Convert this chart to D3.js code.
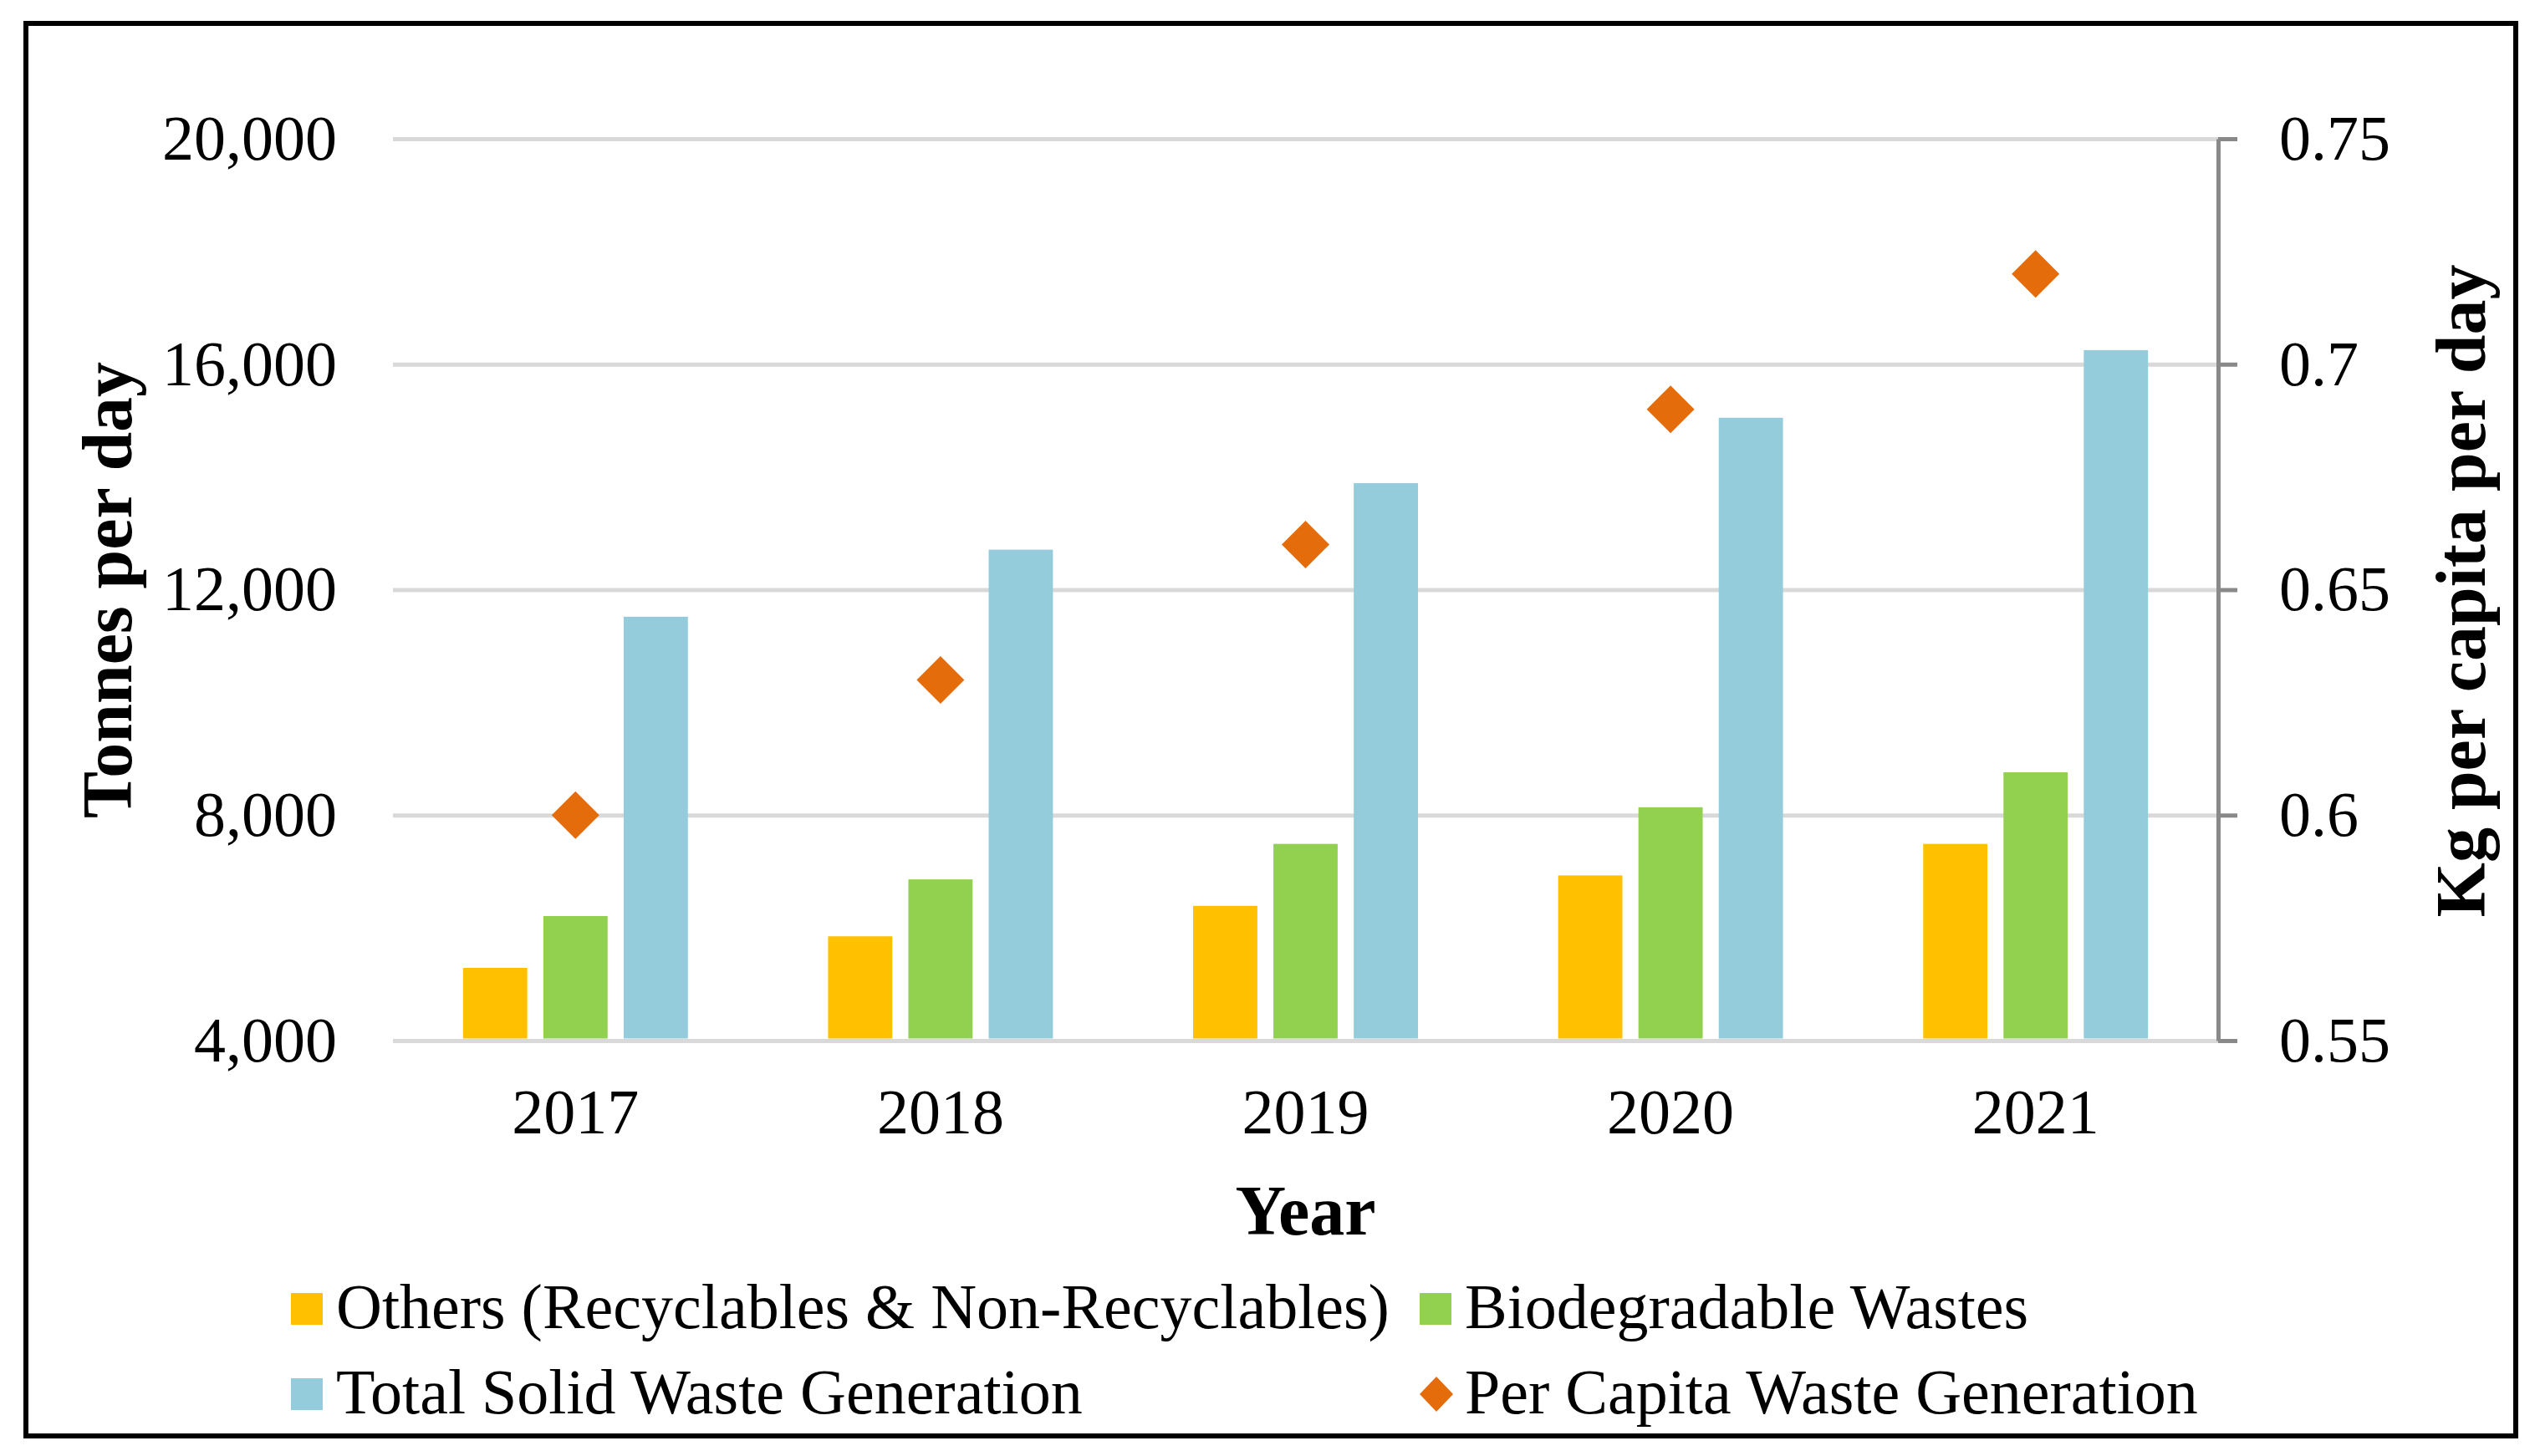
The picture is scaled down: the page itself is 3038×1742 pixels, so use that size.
<!DOCTYPE html>
<html>
<head>
<meta charset="utf-8">
<script src="https://cdn.jsdelivr.net/npm/d3@7.9.0/dist/d3.min.js"></script>
<style>
  html, body { margin: 0; padding: 0; background: #fff; }
  svg text { font-family: "Liberation Serif", "Times New Roman", serif; fill: #000; }
</style>
</head>
<body>
<svg id="chart" width="3038" height="1742"></svg>
<script>
const years = ['2017', '2018', '2019', '2020', '2021'];
const others = [5290, 5850, 6390, 6930, 7490];
const biodegradable = [6210, 6860, 7490, 8140, 8760];
const totalWaste = [11520, 12710, 13890, 15050, 16250];
const perCapita = [0.60, 0.63, 0.66, 0.69, 0.72];

const leftTicks = [4000, 8000, 12000, 16000, 20000];
const rightTicks = [0.55, 0.60, 0.65, 0.70, 0.75];

const seriesNames = ['Others (Recyclables & Non-Recyclables)', 'Biodegradable Wastes', 'Total Solid Waste Generation'];
const seriesColors = ['#FFC000', '#92D050', '#94CCDC'];
const markerName = 'Per Capita Waste Generation';
const markerColor = '#E46C0A';

const svg = d3.select('#chart');
const plot = { left: 470, right: 2653, top: 166, bottom: 1245 };

// frame
svg.append('rect')
  .attr('x', 31).attr('y', 28)
  .attr('width', 2978).attr('height', 1690)
  .attr('fill', 'none').attr('stroke', '#000').attr('stroke-width', 6);

const x = d3.scaleBand().domain(years).range([plot.left, plot.right]).padding(0);
const groupW = x.bandwidth() * 0.616;
const xInner = d3.scaleBand().domain(d3.range(3)).range([-groupW / 2, groupW / 2]).paddingInner(0.2);

const yLeft = d3.scaleLinear().domain([4000, 20000]).range([plot.bottom, plot.top]);
const yRight = d3.scaleLinear().domain([0.55, 0.75]).range([plot.bottom, plot.top]);

// gridlines + left labels
const leftAxis = d3.axisLeft(yLeft)
  .tickValues(leftTicks)
  .tickSize(-(plot.right - plot.left))
  .tickPadding(67)
  .tickFormat(d3.format(','));
const gl = svg.append('g').attr('transform', `translate(${plot.left},0)`).call(leftAxis);
gl.select('.domain').remove();
gl.selectAll('.tick line').attr('stroke', '#D9D9D9').attr('stroke-width', 5);
gl.selectAll('.tick text').attr('font-size', 76).attr('font-family', '"Liberation Serif", serif');

// bars
const bySeries = [others, biodegradable, totalWaste];
bySeries.forEach((vals, si) => {
  svg.append('g').selectAll('rect')
    .data(vals)
    .join('rect')
    .attr('x', (d, i) => x(years[i]) + x.bandwidth() / 2 + xInner(si))
    .attr('width', xInner.bandwidth())
    .attr('y', d => yLeft(d))
    .attr('height', d => yLeft(4000) - yLeft(d) - 2.5)
    .attr('fill', seriesColors[si]);
});

// right axis
const rightAxis = d3.axisRight(yRight)
  .tickValues(rightTicks)
  .tickSize(23)
  .tickSizeOuter(0)
  .tickPadding(50)
  .tickFormat(d3.format('~g'));
const gr = svg.append('g').attr('transform', `translate(${plot.right},0)`).call(rightAxis);
gr.select('.domain').attr('stroke', '#898989').attr('stroke-width', 5);
gr.selectAll('.tick line').attr('stroke', '#898989').attr('stroke-width', 5);
gr.selectAll('.tick text').attr('font-size', 76).attr('font-family', '"Liberation Serif", serif');

// per-capita markers
const diamond = d3.symbol().type(d3.symbolSquare).size(1625);
svg.append('g').selectAll('path')
  .data(perCapita)
  .join('path')
  .attr('d', diamond)
  .attr('transform', (d, i) => `translate(${x(years[i]) + x.bandwidth() / 2},${yRight(d)}) rotate(45)`)
  .attr('fill', markerColor);

// x tick labels
svg.append('g').selectAll('text')
  .data(years)
  .join('text')
  .attr('x', d => x(d) + x.bandwidth() / 2)
  .attr('y', 1356)
  .attr('text-anchor', 'middle')
  .attr('font-size', 76)
  .text(d => d);

// axis titles
svg.append('text')
  .attr('x', (plot.left + plot.right) / 2).attr('y', 1477)
  .attr('text-anchor', 'middle').attr('font-size', 84).attr('font-weight', 'bold')
  .text('Year');

svg.append('text')
  .attr('transform', 'translate(157,706) rotate(-90)')
  .attr('text-anchor', 'middle').attr('font-size', 84).attr('font-weight', 'bold')
  .text('Tonnes per day');

svg.append('text')
  .attr('transform', 'translate(2972,707) rotate(-90)')
  .attr('text-anchor', 'middle').attr('font-size', 84).attr('font-weight', 'bold')
  .text('Kg per capita per day');

// legend
const legendItems = [
  { name: seriesNames[0], color: seriesColors[0], col: 0, row: 0, kind: 'rect' },
  { name: seriesNames[1], color: seriesColors[1], col: 1, row: 0, kind: 'rect' },
  { name: seriesNames[2], color: seriesColors[2], col: 0, row: 1, kind: 'rect' },
  { name: markerName, color: markerColor, col: 1, row: 1, kind: 'diamond' }
];
const colX = [348, 1698];
const rowY = [1566, 1668];
const lg = svg.append('g');
legendItems.forEach(item => {
  const cx = colX[item.col];
  const cy = rowY[item.row];
  if (item.kind === 'rect') {
    lg.append('rect')
      .attr('x', cx).attr('y', cy - 19)
      .attr('width', 38).attr('height', 38)
      .attr('fill', item.color);
  } else {
    lg.append('path')
      .attr('d', `M${cx + 20},${cy - 21} L${cx + 40},${cy} L${cx + 20},${cy + 21} L${cx},${cy} Z`)
      .attr('fill', item.color);
  }
  lg.append('text')
    .attr('x', cx + 54).attr('y', cy + 23)
    .attr('font-size', 76)
    .text(item.name);
});
</script>
</body>
</html>
